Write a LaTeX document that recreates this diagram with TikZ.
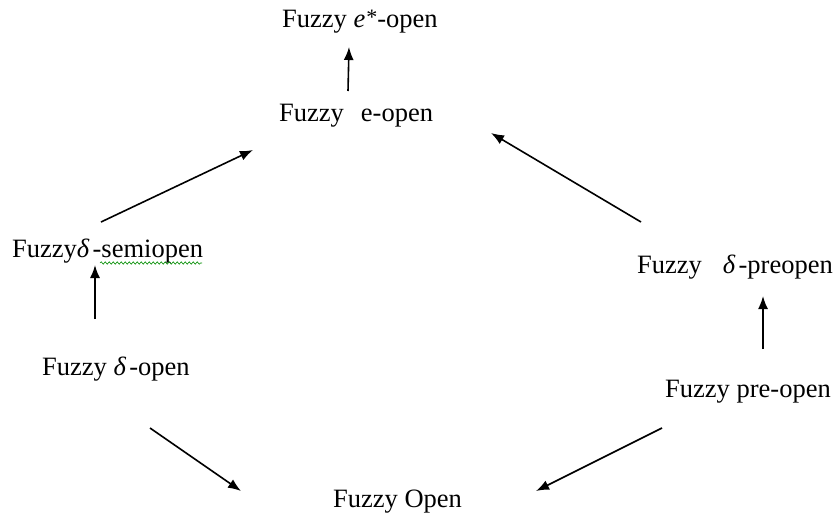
\documentclass[tikz,border=0pt]{standalone}
\usepackage{fontspec}
\setmainfont{Liberation Serif}
\usetikzlibrary{arrows.meta,decorations.pathmorphing}
\begin{document}
\begin{tikzpicture}[x=1pt,y=-1pt,
  lbl/.style={anchor=base west,inner sep=0pt,font=\fontsize{26.5}{31}\selectfont},
  imp/.style={line width=1.6pt,-{Latex[length=13pt,width=10pt]}},
  squiggle/.style={draw=green!55!black,line width=0.6pt,
    decorate,decoration={snake,amplitude=1.2pt,segment length=4pt}}]
\useasboundingbox (0,0) rectangle (834,515);
% statements
\node[lbl] (estar) at (282,27)  {Fuzzy \textit{e}\hspace{1pt}\raisebox{3pt}{\fontsize{22}{22}\selectfont *}-open};
\node[lbl] (eopen) at (279,121) {Fuzzy\hspace{17pt}e-open};
\node[lbl] (semi)  at (12,257)  {Fuzzy\textit{δ}\hspace{3pt}-semiopen};
\node[lbl] (dopen) at (42,375)  {Fuzzy \textit{δ}\hspace{3pt}-open};
\node[lbl] (dpre)  at (637,273) {Fuzzy\hspace{21pt}\textit{δ}\hspace{3pt}-preopen};
\node[lbl] (pre)   at (665,397) {Fuzzy pre-open};
\node[lbl] (open)  at (333,507) {Fuzzy Open};
% arrow end points
\coordinate (a1) at (348,91);  \coordinate (b1) at (349,47);
\coordinate (a2) at (101,222); \coordinate (b2) at (253,150);
\coordinate (a3) at (95,319);  \coordinate (b3) at (95,265);
\coordinate (a4) at (150,428); \coordinate (b4) at (241,491);
\coordinate (a5) at (641,222); \coordinate (b5) at (491,133);
\coordinate (a6) at (763,349); \coordinate (b6) at (763,296);
\coordinate (a7) at (662,428); \coordinate (b7) at (536,491);
% implications
\draw[imp] (a1) -- (b1);
\draw[imp] (a2) -- (b2);
\draw[imp] (a3) -- (b3);
\draw[imp] (a4) -- (b4);
\draw[imp] (a5) -- (b5);
\draw[imp] (a6) -- (b6);
\draw[imp] (a7) -- (b7);
% spelling mark under "semiopen"
\coordinate (s1) at (100,263); \coordinate (s2) at (202,263);
\draw[squiggle] (s1) -- (s2);
\end{tikzpicture}
\end{document}
